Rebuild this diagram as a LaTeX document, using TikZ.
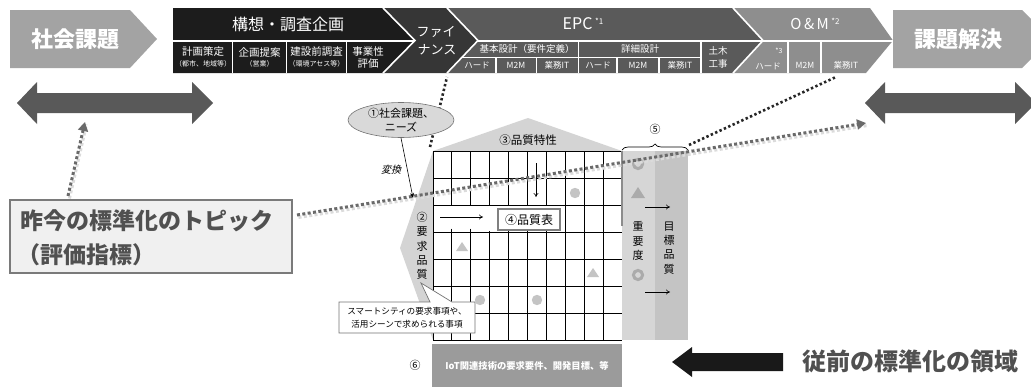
\documentclass[tikz,border=0pt]{standalone}
\usepackage{fontspec}
\setmainfont{Noto Sans CJK JP}
\newfontfamily\jpslant{Noto Sans CJK JP}[FakeSlant=0.25]
\usetikzlibrary{arrows.meta,shapes.geometric,decorations.pathreplacing}
\newcommand\fsz[1]{\fontsize{#1}{#1}\selectfont}
\definecolor{chevgray}{HTML}{A3A3A3}
\definecolor{blk}{HTML}{1C1C1C}
\definecolor{fin}{HTML}{363636}
\definecolor{epc}{HTML}{5A5A5A}
\definecolor{om}{HTML}{8E8E8E}
\definecolor{darr}{HTML}{595959}
\definecolor{roof}{HTML}{D4D4D4}
\definecolor{colA}{HTML}{D6D6D6}
\definecolor{colB}{HTML}{C4C4C4}
\definecolor{boxsix}{HTML}{9B9B9B}
\definecolor{symgray}{HTML}{C4C4C4}
\definecolor{ringgray}{HTML}{ABABAB}
\definecolor{dotgray}{HTML}{6A6A6A}
\definecolor{txtgray}{HTML}{505050}
\begin{document}
\begin{tikzpicture}[x=1pt,y=-1pt,
  wtxt/.style={text=white, inner sep=0pt},
  btxt/.style={text=black, inner sep=0pt},
  vtxt/.style={text=black, inner sep=0pt, align=center, font=\fontsize{11}{14.2}\selectfont},
  sep/.style={draw=white, line width=1.6pt},
  blkdot/.style={line width=2.6pt, dash pattern=on 2.4pt off 2.4pt, color=black!85},
  graydot/.style={line width=3pt, dash pattern=on 3pt off 2.4pt, color=dotgray, -{Triangle[length=9pt,width=10pt]}},
  shadowdot/.style={line width=3pt, dash pattern=on 3pt off 2.4pt, color=black!14},
  thinarr/.style={-{To[length=4pt,width=5pt]}, line width=0.6pt},
  gridline/.style={line width=0.9pt, black}
]
\useasboundingbox (0,0) rectangle (1031,388);

% ---------- top lifecycle band ----------
\fill[chevgray] (10,10) -- (130,10) -- (157,39) -- (130,68) -- (10,68) -- cycle;
\node[wtxt, font=\fsz{22}\bfseries] (shakai) at (75,39) {社会課題};
\fill[chevgray] (893,10) -- (1022,10) -- (1051,39) -- (1022,68) -- (893,68) -- cycle;
\node[wtxt, font=\fsz{22}\bfseries] (kaiketsu) at (958,39) {課題解決};

\fill[blk] (173,8) -- (383,8) -- (415,40.5) -- (383,73) -- (173,73) -- cycle;
\fill[fin] (383,8) -- (447,8) -- (478,40.5) -- (447,73) -- (383,73) -- (415,40.5) -- cycle;
\fill[epc] (447,8) -- (733,8) -- (763,40.5) -- (733,73) -- (447,73) -- (478,40.5) -- cycle;
\fill[om] (733,8) -- (870,8) -- (893,40.5) -- (866,73) -- (733,73) -- (763,40.5) -- cycle;

\draw[sep] (173,41) -- (415,41);
\draw[sep] (232.5,41) -- (232.5,73) (286.5,41) -- (286.5,73) (346.5,41) -- (346.5,73);
\draw[sep] (478,41) -- (893,41);
\draw[sep] (462,57.5) -- (701,57.5);
\draw[sep] (578.5,41) -- (578.5,73) (701,41) -- (701,73);
\draw[sep] (496,57.5) -- (496,73) (536.5,57.5) -- (536.5,73) (617,57.5) -- (617,73) (659,57.5) -- (659,73);
\draw[sep] (788,41) -- (788,73) (821,41) -- (821,73);
\draw[sep] (383,8) -- (415,40.5) -- (383,73);
\draw[sep] (447,8) -- (478,40.5) -- (447,73);
\draw[sep] (733,8) -- (763,40.5) -- (733,73);

\node[wtxt, font=\fsz{16}] (kousou) at (288,24) {構想・調査企画};
\node[wtxt, font=\fsz{10.5}] (k1a) at (203,52) {計画策定};
\node[wtxt, font=\fsz{7}] (k1b) at (203,64) {（都市、地域等）};
\node[wtxt, font=\fsz{10.5}] (k2a) at (259.5,52) {企画提案};
\node[wtxt, font=\fsz{7}] (k2b) at (259.5,64) {（営業）};
\node[wtxt, font=\fsz{10.5}] (k3a) at (316.5,52) {建設前調査};
\node[wtxt, font=\fsz{7}] (k3b) at (316.5,64) {（環境アセス等）};
\node[wtxt, font=\fsz{10.5}] (k4a) at (368,52) {事業性};
\node[wtxt, font=\fsz{10.5}] (k4b) at (368,64) {評価};

\node[wtxt, font=\fsz{13}] (fin1) at (436,32) {ファイ};
\node[wtxt, font=\fsz{13}] (fin2) at (437,50) {ナンス};

\node[wtxt, font=\fsz{16}] (epct) at (583,24) {EPC\,\raisebox{5pt}{\fsz{8}*1}};
\node[wtxt, font=\fsz{9.5}] (kihon) at (527,49) {基本設計（要件定義）};
\node[wtxt, font=\fsz{9.5}] (shosai) at (640,49) {詳細設計};
\node[wtxt, font=\fsz{8.5}] (e1) at (477,65.5) {ハード};
\node[wtxt, font=\fsz{8.5}] (e2) at (516,65.5) {M2M};
\node[wtxt, font=\fsz{8.5}] (e3) at (557,65.5) {業務IT};
\node[wtxt, font=\fsz{8.5}] (e4) at (598,65.5) {ハード};
\node[wtxt, font=\fsz{8.5}] (e5) at (638,65.5) {M2M};
\node[wtxt, font=\fsz{8.5}] (e6) at (680,65.5) {業務IT};
\node[wtxt, font=\fsz{9.5}] (doboku1) at (718,51) {土木};
\node[wtxt, font=\fsz{9.5}] (doboku2) at (718,64) {工事};

\node[wtxt, font=\fsz{15}] (omt) at (815,24) {O\,\&\,M\,\raisebox{5pt}{\fsz{8}*2}};
\node[wtxt, font=\fsz{8.5}] (o1) at (768,66) {ハード};
\node[wtxt, font=\fsz{7}] (o1s) at (779,51) {*3};
\node[wtxt, font=\fsz{8.5}] (o2) at (805,65.5) {M2M};
\node[wtxt, font=\fsz{8.5}] (o3) at (846,65.5) {業務IT};

% ---------- double arrows ----------
\fill[darr] (17,103) -- (37,82) -- (37,93) -- (192,93) -- (192,82) -- (213,103) -- (192,124) -- (192,113) -- (37,113) -- (37,124) -- cycle;
\fill[darr] (865,103) -- (885,82) -- (885,93) -- (1015,93) -- (1015,82) -- (1036,103) -- (1015,124) -- (1015,113) -- (885,113) -- (885,124) -- cycle;
\coordinate (leftarr) at (85,122);
\coordinate (rightarr) at (866,123);

% ---------- topic box ----------
\draw[fill=black!6, draw=black!52, line width=2.5pt] (10,200) rectangle (292,273);
\node[inner sep=0pt, anchor=west, text=txtgray, font=\fsz{23}\bfseries] (topic1) at (20,221) {昨今の標準化のトピック};
\node[inner sep=0pt, anchor=west, text=txtgray, font=\fsz{23}\bfseries] (topic2) at (17,255) {（評価指標）};
\coordinate (topictop) at (68,196);
\coordinate (topicright) at (297,215);

% ---------- black dotted correspondence lines ----------
\coordinate (houseTL) at (430,147);
\coordinate (finbot) at (447,77);
\coordinate (braceR) at (689,145);
\coordinate (ombot) at (836,77);
\draw[blkdot] (houseTL) -- (finbot);
\draw[blkdot] (braceR) -- (ombot);

% ---------- house of quality ----------
\fill[roof] (433,151) -- (528,118) -- (622,151) -- cycle;
\node[btxt, font=\fsz{11.5}] (hinshitsu) at (528,140) {③品質特性};
\fill[roof] (433,151) -- (400,248) -- (433,340) -- cycle;
\node[vtxt] (youkyu) at (422,246) {②\\要\\求\\品\\質};

\fill[white] (433,151) rectangle (622,340);
\fill[colA] (622,151) rectangle (655,340);
\fill[colB] (655,151) rectangle (688,340);

\foreach \i in {0,...,9} {
  \draw[gridline] ({433+\i*18.9},151) -- ({433+\i*18.9},340);
}
\foreach \j in {0,...,7} {
  \draw[gridline] (433,{151+\j*27}) -- (622,{151+\j*27});
}
\draw[line width=1.1pt, black!45] (622,151) -- (622,226);
\fill[white] (433.6,205.6) rectangle (564.5,231.4);
\draw[gridline] (451.9,228.5) -- (451.9,232) (470.8,228.5) -- (470.8,232);

% symbols in grid
\fill[symgray] (575,193) circle (5.2);
\fill[symgray] (480,300) circle (5.2);
\fill[symgray] (537,300) circle (5.2);
\fill[symgray] (456,251) -- (468,251) -- (462,242) -- cycle;
\fill[symgray] (587,277) -- (599,277) -- (593,268) -- cycle;

\coordinate (ra1) at (440,217);
\coordinate (ra2) at (483,217);
\draw[thinarr] (ra1) -- (ra2);
\coordinate (da1) at (536,163);
\coordinate (da2) at (536,197);
\draw[thinarr] (da1) -- (da2);
\node[draw=black!50, line width=1.8pt, fill=white, minimum width=62pt, minimum height=21pt, inner sep=0pt, font=\fsz{12}] (hyou) at (529,219.5) {④品質表};

% importance / target quality columns
\draw[ringgray, line width=3pt] (638,164) circle (4.6);
\fill[ringgray] (631,198) -- (645,198) -- (638,187) -- cycle;
\draw[ringgray, line width=3pt] (638,275) circle (4.6);
\coordinate (ia1) at (645,207);
\coordinate (ia2) at (670,207);
\draw[thinarr] (ia1) -- (ia2);
\coordinate (ib1) at (645,292);
\coordinate (ib2) at (670,292);
\draw[thinarr] (ib1) -- (ib2);
\node[vtxt] (juyodo) at (638,241) {重\\要\\度};
\node[vtxt] (mokuhyo) at (669,248) {目\\標\\品\\質};

\draw[decorate, decoration={brace, amplitude=6pt}, line width=0.7pt] (622,150) -- (688,150);
\node[btxt, font=\fsz{11}] (five) at (655,129) {⑤};

% callout
\draw[fill=white, draw=black!55, line width=0.7pt] (339,302) -- (430,302) -- (421,283) -- (452,302) -- (475,302) -- (475,333) -- (339,333) -- cycle;
\node[btxt, font=\fsz{8.6}] (call1) at (407,311) {スマートシティの要求事項や、};
\node[btxt, font=\fsz{8.6}] (call2) at (407,324) {活用シーンで求められる事項};

% ---------- dotted gray arrows ----------
\draw[shadowdot] ([shift={(1.5,2.5)}]topicright) -- ([shift={(1.5,2.5)}]rightarr);
\draw[shadowdot] ([shift={(1.5,2.5)}]topictop) -- ([shift={(1.5,2.5)}]leftarr);
\draw[graydot] (topicright) -- (rightarr);
\draw[graydot] (topictop) -- (leftarr);

% ---------- needs ellipse ----------
\node[ellipse, draw=black!55, fill=black!15, line width=0.6pt, minimum width=106pt, minimum height=35pt, inner sep=0pt, align=center, font=\fontsize{11}{14}\selectfont] (needs) at (401,120) {①社会課題、\\ニーズ};
\coordinate (henkanEnd) at (413,198);
\draw[-{Stealth[length=5pt,width=4pt]}, line width=0.6pt] (needs.south) -- (henkanEnd);
\node[btxt, font=\jpslant\fsz{10}] (henkan) at (391,170) {変換};

% ---------- bottom ----------
\node[btxt, font=\fsz{11}] (six) at (415,365) {⑥};
\fill[boxsix] (432,344) rectangle (622,387);
\node[wtxt, font=\fsz{9.3}\bfseries] (iot) at (527,365.5) {IoT関連技術の要求要件、開発目標、等};
\fill[black!90] (672,362) -- (692,347) -- (692,353) -- (783,353) -- (783,371) -- (692,371) -- (692,377) -- cycle;
\node[inner sep=0pt, text=txtgray, font=\fsz{24}\bfseries] (juzen) at (910,361) {従前の標準化の領域};
\end{tikzpicture}
\end{document}
